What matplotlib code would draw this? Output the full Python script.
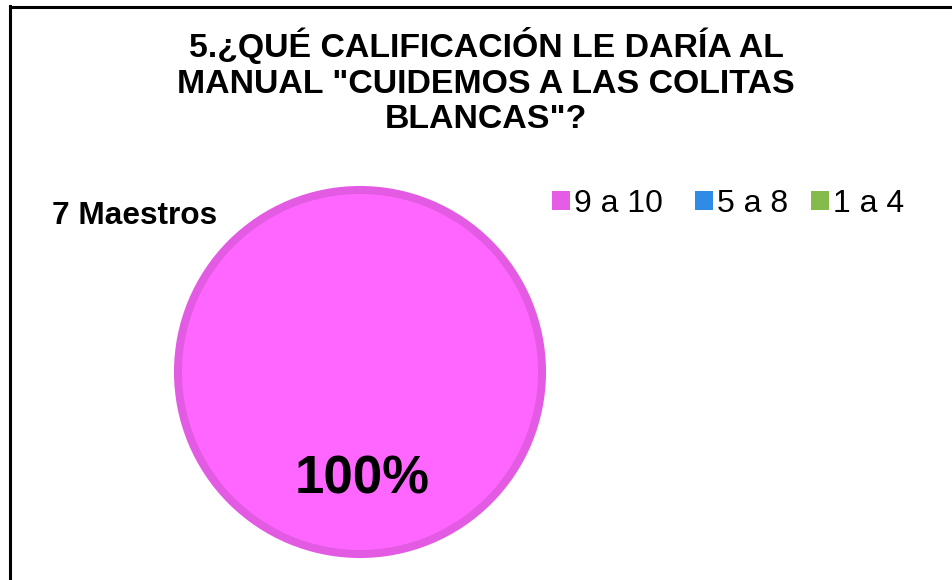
import matplotlib
matplotlib.use("Agg")
import matplotlib.pyplot as plt
from matplotlib.patches import Patch

categories = ["9 a 10", "5 a 8", "1 a 4"]
values = [7, 0, 0]
colors = ["#FF66FF", "#2E8BE6", "#84BB4B"]
legend_colors = ["#E55CE5", "#2E8BE6", "#84BB4B"]
title = '5.¿QUÉ CALIFICACIÓN LE DARÍA AL\nMANUAL "CUIDEMOS A LAS COLITAS\nBLANCAS"?'
total_label = "7 Maestros"

plt.rcParams['font.family'] = ['Liberation Sans', 'DejaVu Sans']

W, H = 952, 580
fig = plt.figure(figsize=(W / 100, H / 100), dpi=100)
fig.patch.set_facecolor("white")

# border (left and top)
fig.add_artist(plt.Line2D([9.5 / W, 9.5 / W], [0, 1 - 6 / H], color="black", lw=2.2,
                          transform=fig.transFigure))
fig.add_artist(plt.Line2D([9.5 / W, 1], [1 - 6.5 / H, 1 - 6.5 / H], color="black", lw=2.2,
                          transform=fig.transFigure))

cx, cy, R = 360, 372, 186
ax = fig.add_axes([(cx - R) / W, (H - cy - R) / H, 2 * R / W, 2 * R / H])
nz = [(v, c) for v, c in zip(values, colors) if v > 0]
total = sum(values)
wedges, _ = ax.pie([v for v, _ in nz], colors=[c for _, c in nz], radius=1.0,
                   startangle=90, counterclock=False,
                   wedgeprops=dict(edgecolor="#E35BE3", linewidth=5.8))
lim = 186 / 182
ax.set_xlim(-lim, lim)
ax.set_ylim(-lim, lim)
ax.set_aspect("equal")
ax.axis("off")

pct = 100 * nz[0][0] / total
ax.text(0.01, -(493 - cy) / 182, f"{pct:.0f}%", ha="center", va="baseline", fontsize=38,
        fontweight="bold", color="black")

# title: baseline of the last line
fig.text(486 / W, 1 - 128 / H, title, ha="center", va="baseline", fontsize=24.4,
         fontweight="bold", linespacing=1.18)
fig.text(52 / W, 1 - 224 / H, total_label, ha="left", va="baseline", fontsize=22.8,
         fontweight="bold")

legend_x = [552, 695, 811]
for cat, col, lx in zip(categories, legend_colors, legend_x):
    fig.legend([Patch(facecolor=col, edgecolor="none")], [cat], loc="center left",
               bbox_to_anchor=(lx / W, 1 - 204 / H), frameon=False, fontsize=23,
               handlelength=0.56, handleheight=0.56, handletextpad=0.13,
               borderpad=0, borderaxespad=0)

fig.savefig("out.png", dpi=100, facecolor="white")
